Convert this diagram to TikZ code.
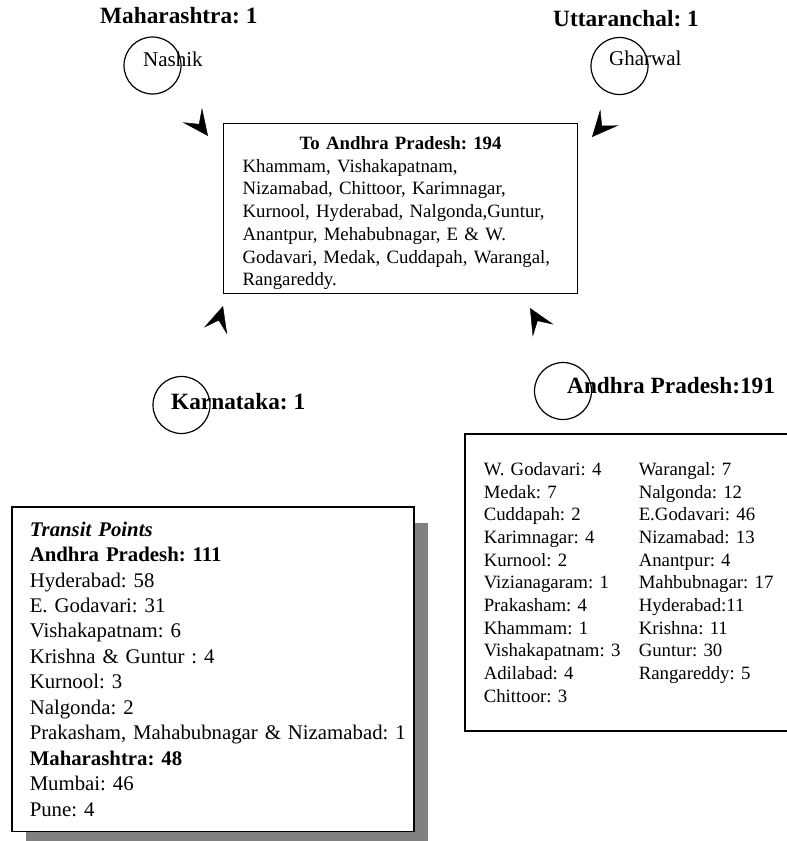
\documentclass[tikz,border=0pt]{standalone}
\usepackage{fontspec}
\setmainfont{Liberation Serif}
\usetikzlibrary{arrows.meta,decorations.markings,shadows}
\frenchspacing

\begin{document}
\begin{tikzpicture}[x=1pt,y=-1pt,
  every node/.style={inner sep=0pt},
  ring/.style={draw,circle,line width=1.2pt,minimum size=57pt},
  head/.style={anchor=base west,font=\fontsize{23.3}{28}\selectfont\bfseries},
  place/.style={anchor=base west,font=\fontsize{21}{25}\selectfont},
  tiponly/.style={decorate,decoration={markings,
    mark=at position 1 with {\arrow{Stealth[length=26pt,width=24pt,inset=11pt]}}}}]
\useasboundingbox (0,0) rectangle (787,841);
\draw
(152.5,65.5) node[ring](nashikc){}
(619.5,66) node[ring](gharwalc){}
(181.5,405) node[ring](karnatakac){}
(563,391) node[ring](apc){}
;
\node[head] (maha) at (100,23.3) {Maharashtra: 1};
\node[place] (nashik) at (143,66) {Nashik};
\node[head] (utta) at (553,26.7) {Uttaranchal: 1};
\node[place] (gharwal) at (609,65.7) {Gharwal};
\node[head] (karna) at (171,409.3) {Karnataka: 1};
\node[head] (ap) at (567,393.3) {Andhra Pradesh:191};

% destination box
\node[draw,line width=1.1pt,anchor=north west,text width=316pt,inner xsep=19pt,
  inner ysep=4pt,align=left,font=\fontsize{18.8}{22.7}\selectfont] (dest) at (223,123)
{\makebox[\linewidth]{\rule{0pt}{22pt}\bfseries To Andhra Pradesh: 194}\\
Khammam, Vishakapatnam,\\
Nizamabad, Chittoor, Karimnagar,\\
Kurnool, Hyderabad, Nalgonda,Guntur,\\
Anantpur, Mehabubnagar, E \& W.\\
Godavari, Medak, Cuddapah, Warangal,\\
Rangareddy.};

% district counts
\node[draw,line width=1.5pt,anchor=north west,text width=330pt,inner xsep=19pt,
  inner ysep=28.5pt,align=left,font=\fontsize{18.8}{22.7}\selectfont] (tally) at (464,433)
{\begin{minipage}[t]{155pt}
W. Godavari: 4\\
Medak: 7\\
Cuddapah: 2\\
Karimnagar: 4\\
Kurnool: 2\\
Vizianagaram: 1\\
Prakasham: 4\\
Khammam: 1\\
Vishakapatnam: 3\\
Adilabad: 4\\
Chittoor: 3
\end{minipage}%
\begin{minipage}[t]{170pt}
Warangal: 7\\
Nalgonda: 12\\
E.Godavari: 46\\
Nizamabad: 13\\
Anantpur: 4\\
Mahbubnagar: 17\\
Hyderabad:11\\
Krishna: 11\\
Guntur: 30\\
Rangareddy: 5
\end{minipage}};

% transit points
\node[draw,line width=1.5pt,fill=white,
  drop shadow={shadow xshift=14pt,shadow yshift=-16pt,opacity=1,fill=black!50},
  anchor=north west,text width=366pt,inner xsep=18pt,inner ysep=15pt,align=left,
  font=\fontsize{20.8}{25.45}\selectfont] (transit) at (11,506)
{\textbf{\textit{Transit Points}}\\
\textbf{Andhra Pradesh: 111}\\
Hyderabad: 58\\
E. Godavari: 31\\
Vishakapatnam: 6\\
Krishna \& Guntur : 4\\
Kurnool: 3\\
Nalgonda: 2\\
\makebox[\linewidth][l]{Prakasham, Mahabubnagar \& Nizamabad: 1}\\
\textbf{Maharashtra: 48}\\
Mumbai: 46\\
Pune: 4};

\coordinate (t1) at (208,136);
\coordinate (t2) at (592,137);
\coordinate (t3) at (223,306);
\coordinate (t4) at (530,308);
\foreach \s/\t in {nashikc.-49/t1, gharwalc.-66/t2, karnatakac.50/t3, apc.93/t4}{
\path[tiponly] (\s) -- (\t);
}
\end{tikzpicture}
\end{document}
